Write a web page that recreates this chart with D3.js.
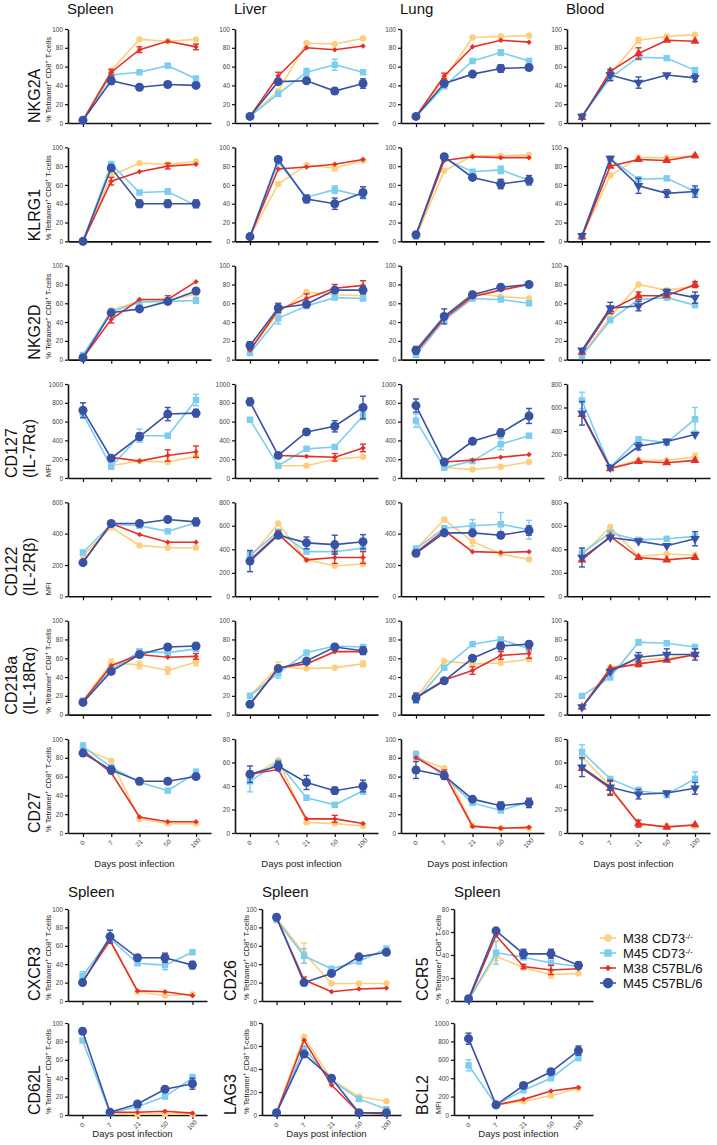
<!DOCTYPE html>
<html>
<head>
<meta charset="utf-8">
<script src="https://cdnjs.cloudflare.com/ajax/libs/d3/7.8.5/d3.min.js"></script>
<style>
  body { margin: 0; background: #fff; }
  svg { display: block; font-family: "Liberation Sans", Arial, Helvetica, sans-serif; }
  .axis path, .axis line { stroke: #111; }
  .axis path { stroke-width: 1.6; }
  .axis line { stroke-width: 1.2; }
  .axis text { fill: #444; font-size: 6.5px; font-family: "Liberation Sans", Arial, sans-serif; }
</style>
</head>
<body>
<div id="chart"></div>
<script>
const days = ["0", "7", "21", "50", "100"]
const groups = ["M38 CD73", "M45 CD73", "M38 C57BL/6", "M45 C57BL/6"]
const groupSup = ["-/-", "-/-", "", ""]
const colors = ["#fdcf7d", "#7ccdf0", "#e3312a", "#3953a4"]
const tissues = ["Spleen", "Liver", "Lung", "Blood"]

// rows: [spleen, liver, lung, blood]; each panel: [M38 CD73, M45 CD73, M38 B6, M45 B6]
// error lists: [panel, series, dayIndex, sem]
const NKG2A = [
  [[3, 56, 89, 87, 89], [3, 51, 54, 61, 47], [3, 54, 78, 87, 81], [3, 45, 38, 41, 40]],
  [[7, 34, 85, 84, 90], [7, 31, 54, 62, 54], [7, 50, 80, 78, 82], [7, 44, 45, 34, 42]],
  [[7, 47, 91, 92, 93], [7, 39, 66, 75, 66], [7, 50, 81, 88, 86], [7, 42, 52, 58, 59]],
  [[7, 52, 88, 92, 94], [7, 48, 70, 69, 56], [6, 55, 74, 88, 87], [7, 51, 43, 51, 48]]
]
const NKG2A_err = [[0,2,2,3],[0,2,4,3],[0,3,1,4],[0,3,3,3],[0,1,4,3],[0,2,1,3],[1,1,2,4],[1,1,3,6],[1,3,3,3],[1,3,4,5],[1,2,1,4],
  [2,2,1,3],[2,1,3,3],[2,3,3,4],[3,3,1,6],[3,3,2,6],[3,3,4,4],[3,2,2,6],[3,0,2,3],[3,1,4,3]]

const KLRG1 = [
  [[0, 70, 83, 82, 85], [0, 82, 52, 53, 38], [0, 64, 74, 80, 82], [0, 78, 40, 40, 40]],
  [[5, 61, 81, 78, 86], [5, 84, 47, 55, 48], [5, 77, 79, 82, 87], [5, 87, 45, 40, 52]],
  [[5, 75, 91, 91, 92], [5, 88, 74, 76, 65], [7, 86, 90, 89, 89], [7, 90, 68, 61, 65]],
  [[5, 70, 89, 89, 91], [5, 88, 66, 67, 53], [5, 80, 87, 86, 91], [6, 88, 59, 51, 53]]
]
const KLRG1_err = [[0,2,1,4],[0,3,2,4],[0,3,3,4],[0,3,4,4],[0,2,3,3],[0,1,1,3],[0,1,3,3],[1,3,2,4],[1,3,3,6],[1,1,3,4],[1,3,4,6],[1,0,3,3],
  [2,1,3,4],[2,3,3,5],[2,3,4,5],[3,3,2,8],[3,3,3,4],[3,3,4,6],[3,1,4,4]]

const NKG2D = [
  [[3, 53, 62, 63, 70], [5, 51, 61, 62, 63], [2, 43, 64, 64, 83], [2, 50, 54, 62, 73]],
  [[10, 50, 72, 69, 68], [7, 44, 57, 66, 65], [10, 53, 65, 76, 79], [15, 55, 59, 74, 74]],
  [[8, 45, 71, 67, 65], [5, 42, 65, 64, 60], [8, 44, 67, 74, 80], [10, 46, 69, 77, 80]],
  [[5, 45, 80, 74, 78], [4, 42, 64, 66, 58], [8, 53, 68, 68, 80], [10, 55, 57, 72, 66]]
]
const NKG2D_err = [[0,2,1,4],[0,2,3,4],[0,1,4,3],[1,3,0,4],[1,3,1,5],[1,1,1,6],[1,2,2,5],[1,2,3,4],[1,2,4,5],[1,3,4,4],
  [2,3,1,8],[2,3,0,4],[3,3,1,6],[3,3,2,5],[3,2,2,4],[3,3,4,6],[3,2,4,3],[3,3,3,3]]

const CD127 = [
  [[null, 130, 180, 170, 230], [680, 120, 450, 450, 830], [null, 220, 180, 240, 280], [720, 210, 440, 680, 690]],
  [[null, 130, 130, 200, 225], [620, 130, 310, 330, 660], [null, 240, 230, 220, 320], [810, 240, 490, 550, 750]],
  [[null, 110, 90, 120, 170], [610, 110, 180, 360, 450], [null, 170, 190, 220, 250], [770, 170, 390, 480, 660]],
  [[null, 90, 150, 150, 180], [660, 90, 330, 300, 500], [540, 80, 140, 130, 150], [550, 90, 270, 310, 370]]
]
const CD127_err = [[0,3,0,80],[0,3,3,70],[0,1,2,70],[0,1,4,60],[0,2,3,60],[0,2,4,60],[0,3,4,40],[0,3,2,40],
  [1,3,0,40],[1,3,3,60],[1,3,4,120],[1,1,4,40],[1,2,3,40],[1,2,4,40],[1,3,2,30],
  [2,3,0,70],[2,1,0,70],[2,1,3,60],[2,3,4,80],[2,3,3,40],[2,3,2,30],
  [3,1,0,70],[3,3,0,100],[3,1,4,100],[3,3,2,30],[3,3,3,20],[3,0,4,30]]

const CD122 = [
  [[260, 440, 325, 310, 310], [280, 460, 450, 415, 470], [220, 465, 395, 345, 345], [215, 465, 465, 490, 475]],
  [[330, 620, 310, 260, 275], [350, 550, 380, 380, 410], [310, 530, 310, 330, 330], [300, 520, 455, 440, 465]],
  [[300, 490, 350, 270, 235], [305, 435, 450, 460, 425], [280, 420, 285, 280, 285], [275, 405, 405, 390, 420]],
  [[350, 590, 340, 360, 350], [370, 540, 480, 490, 510], [310, 510, 330, 310, 330], [330, 500, 470, 430, 490]]
]
const CD122_err = [[0,3,4,25],[1,3,0,90],[1,3,2,50],[1,3,3,80],[1,3,4,60],[1,2,3,50],[1,2,4,50],[1,1,0,30],[1,2,1,30],
  [2,1,2,40],[2,1,3,75],[2,1,4,60],[2,0,2,30],[2,3,4,30],[2,3,3,20],[2,3,0,20],[3,3,0,80],[3,1,0,40],[3,3,4,60]]

const CD218a = [
  [[15, 55, 53, 47, 56], [15, 48, 67, 66, 70], [14, 52, 64, 61, 62], [13, 46, 64, 72, 73]],
  [[20, 51, 49, 50, 54], [20, 44, 66, 73, 72], [11, 50, 54, 67, 67], [11, 49, 57, 72, 68]],
  [[18, 57, 54, 55, 59], [15, 50, 75, 80, 70], [18, 37, 47, 63, 65], [18, 36, 60, 73, 75]],
  [[8, 50, 58, 60, 63], [20, 40, 77, 76, 72], [8, 49, 54, 58, 64], [8, 46, 61, 64, 64]]
]
const CD218a_err = [[0,0,1,4],[0,0,2,4],[0,0,3,4],[0,0,4,4],[0,2,4,3],[0,3,4,3],[0,1,2,3],[1,1,1,5],[1,0,1,5],[1,3,2,3],[1,3,4,4],[1,0,4,3],
  [2,3,0,5],[2,2,2,4],[2,2,3,4],[2,2,4,5],[2,3,3,4],[2,3,4,3],[3,3,2,5],[3,3,3,6],[3,3,4,6],[3,2,2,3],[3,1,2,3],[3,1,1,3]]

const CD27 = [
  [[90, 77, 15, 10, 10], [92, 70, 54, 45, 64], [88, 64, 17, 12, 12], [85, 67, 55, 55, 60]],
  [[47, 62, 9, 8, 6], [44, 60, 30, 24, 36], [50, 54, 12, 12, 8], [50, 57, 43, 36, 40]],
  [[80, 69, 8, 5, 5], [83, 60, 32, 24, 33], [80, 63, 7, 5, 6], [67, 61, 36, 29, 32]],
  [[65, 40, 7, 6, 6], [69, 46, 36, 33, 46], [55, 38, 8, 5, 7], [56, 39, 33, 34, 38]]
]
const CD27_err = [[0,1,0,4],[0,3,1,4],[0,1,4,4],[1,1,0,9],[1,3,0,7],[1,3,1,4],[1,3,2,6],[1,3,3,3],[1,2,3,3],[1,3,4,5],[1,1,4,3],
  [2,3,0,9],[2,1,0,4],[2,3,1,4],[2,3,3,4],[2,3,4,5],[2,2,1,4],
  [3,1,0,6],[3,3,0,8],[3,3,1,6],[3,2,1,6],[3,3,2,4],[3,1,2,3],[3,3,4,5],[3,1,4,6],[3,2,2,3],[3,1,3,3]]

// spleen-only panels; error lists: [series, dayIndex, sem]
const CXCR3 = [[22, 65, 10, 6, 7], [27, 68, 41, 39, 53], [21, 66, 11, 10, 6], [20, 70, 47, 47, 39]]
const CXCR3_err = [[1,0,5],[3,1,7],[3,2,3],[3,3,5],[1,3,5],[3,4,4],[2,1,3]]
const CD26 = [[90, 52, 19, 19, 19], [88, 49, 35, 43, 57], [90, 23, 10, 13, 14], [91, 20, 30, 48, 53]]
const CD26_err = [[0,1,11],[1,1,8],[2,1,3],[3,1,3],[1,3,3]]
const CCR5 = [[1, 39, 29, 23, 24], [1, 42, 38, 33, 30], [1, 57, 30, 27, 28], [2, 61, 41, 41, 31]]
const CCR5_err = [[1,1,10],[3,2,4],[3,3,4],[2,3,4],[0,3,3],[3,4,3],[2,2,2],[0,1,4]]
const CD62L = [[null, 2, 1, 1, 1], [81, 2, 9, 20, 40], [null, 3, 3, 4, 2], [91, 3, 12, 28, 34]]
const CD62L_err = [[3,4,6],[1,4,4]]
const LAG3 = [[2, 68, 31, 16, 12], [2, 58, 30, 14, 5], [2, 65, 26, 2, 1], [2, 53, 32, 2, 2]]
const LAG3_err = []
const BCL2 = [[null, 110, 150, 210, 290], [540, 110, 270, 400, 630], [null, 110, 170, 260, 300], [830, 110, 320, 470, 700]]
const BCL2_err = [[1,0,60],[3,0,60],[3,4,50],[1,4,40],[3,2,30]]

const PCT = "pct", MFI = "MFI"
const rows = [
  { lines: ["NKG2A"], sub: PCT, vals: NKG2A, errs: NKG2A_err, max: [100, 100, 100, 100] },
  { lines: ["KLRG1"], sub: PCT, vals: KLRG1, errs: KLRG1_err, max: [100, 100, 100, 100] },
  { lines: ["NKG2D"], sub: PCT, vals: NKG2D, errs: NKG2D_err, max: [100, 100, 100, 100] },
  { lines: ["CD127", "(IL-7Rα)"], sub: MFI, vals: CD127, errs: CD127_err, max: [1000, 1000, 1000, 800] },
  { lines: ["CD122", "(IL-2Rβ)"], sub: MFI, vals: CD122, errs: CD122_err, max: [600, 800, 600, 800] },
  { lines: ["CD218a", "(IL-18Rα)"], sub: PCT, vals: CD218a, errs: CD218a_err, max: [100, 100, 100, 100] },
  { lines: ["CD27"], sub: PCT, vals: CD27, errs: CD27_err, max: [100, 80, 100, 80] }
]
const bottom = [
  { label: "CXCR3", sub: PCT, vals: CXCR3, errs: CXCR3_err, max: 100 },
  { label: "CD26", sub: PCT, vals: CD26, errs: CD26_err, max: 100 },
  { label: "CCR5", sub: PCT, vals: CCR5, errs: CCR5_err, max: 80 },
  { label: "CD62L", sub: PCT, vals: CD62L, errs: CD62L_err, max: 100 },
  { label: "LAG3", sub: PCT, vals: LAG3, errs: LAG3_err, max: 80 },
  { label: "BCL2", sub: MFI, vals: BCL2, errs: BCL2_err, max: 1000 }
]

// layout
const colX = [68, 235, 401, 567]
const rowTop = d3.range(rows.length).map(i => 29 + i * 118.33)
const plotW = 143, plotH = 94
const botX = [68, 262, 454]
const botTop = [909, 1023]
const botW = 139, botH = 92

const svg = d3.select('#chart').append('svg')
  .attr('width', 717)
  .attr('height', 1145)

const shapes = [d3.symbolCircle, d3.symbolSquare, d3.symbolSquare, d3.symbolCircle]
const sizes = [32, 42, 15, 64]

function markerPath(s, blood) {
  if (blood && s == 2) return d3.symbol(d3.symbolTriangle, 34)()
  if (blood && s == 3) return d3.symbol(d3.symbolTriangle, 40)()
  return d3.symbol(shapes[s], sizes[s])()
}
function markerRot(s, blood) {
  if (blood && s == 3) return ' rotate(180)'
  if (!blood && s == 2) return ' rotate(45)'
  return ''
}

function subText(t, sub, x, y, size) {
  let txt = t.append('text')
    .attr('transform', `translate(${x},${y}) rotate(-90)`)
    .attr('font-size', size)
    .attr('fill', '#222')
  if (sub == MFI) { txt.text('MFI'); return }
  txt.append('tspan').text('% Tetramer')
  txt.append('tspan').attr('baseline-shift', 'super').attr('font-size', size * 0.7).text('+')
  txt.append('tspan').text(' CD8')
  txt.append('tspan').attr('baseline-shift', 'super').attr('font-size', size * 0.7).text('+')
  txt.append('tspan').text(' T-cells')
}

function drawPanel(x0, y0, w, h, vals, errs, yMax, opt) {
  let g = svg.append('g').attr('transform', `translate(${x0},${y0})`)
  let x = d3.scalePoint().domain(days).range([0, w]).padding(0.53)
  let y = d3.scaleLinear().domain([0, yMax]).range([h, 0])
  let step = yMax <= 100 ? 20 : 200

  g.append('g')
    .attr('class', 'axis')
    .call(d3.axisLeft(y).tickValues(d3.range(0, yMax + 1, step)).tickFormat(d3.format('d'))
      .tickSize(3).tickSizeOuter(0).tickPadding(2))

  let xa = g.append('g')
    .attr('class', 'axis')
    .attr('transform', `translate(0,${h})`)
    .call(d3.axisBottom(x).tickSize(4).tickSizeOuter(0).tickFormat(opt.labels ? d => d : ''))
  if (opt.labels) {
    xa.selectAll('.tick text')
      .attr('y', 0).attr('dy', '0.35em')
      .attr('text-anchor', 'middle')
      .attr('transform', 'translate(-1,10) rotate(-45)')
    g.append('text')
      .attr('x', (x(days[0]) + x(days[days.length - 1])) / 2 - 5)
      .attr('y', h + opt.titleGap)
      .attr('text-anchor', 'middle')
      .attr('font-size', 9.5)
      .attr('fill', '#222')
      .text('Days post infection')
  }

  let line = d3.line()
    .defined(d => d != null)
    .x((d, i) => x(days[i]))
    .y(d => y(d))

  vals.forEach((ser, s) => {
    let sg = g.append('g')
    sg.append('path')
      .attr('d', line(ser))
      .attr('fill', 'none')
      .attr('stroke', colors[s])
      .attr('stroke-width', 1.6)

    errs.filter(e => e[0] == s).forEach(e => {
      let v = ser[e[1]], cx = x(days[e[1]])
      let eb = sg.append('g').attr('stroke', colors[s]).attr('stroke-width', 1.4)
      eb.append('line').attr('x1', cx).attr('x2', cx).attr('y1', y(v - e[2])).attr('y2', y(v + e[2]))
      eb.append('line').attr('x1', cx - 3).attr('x2', cx + 3).attr('y1', y(v - e[2])).attr('y2', y(v - e[2]))
      eb.append('line').attr('x1', cx - 3).attr('x2', cx + 3).attr('y1', y(v + e[2])).attr('y2', y(v + e[2]))
    })

    sg.selectAll('path.pt')
      .data(ser.map((v, i) => [v, i]).filter(d => d[0] != null))
      .enter().append('path')
        .attr('class', 'pt')
        .attr('d', markerPath(s, opt.blood))
        .attr('transform', d => `translate(${x(days[d[1]])},${y(d[0])})` + markerRot(s, opt.blood))
        .attr('fill', colors[s])
  })
}

// column headers
tissues.forEach((t, c) => {
  svg.append('text')
    .attr('x', colX[c] - 1)
    .attr('y', 14)
    .attr('font-size', 15)
    .attr('fill', '#111')
    .text(t)
})

// main grid
rows.forEach((row, r) => {
  let top = rowTop[r]
  row.vals.forEach((panel, c) => {
    let errs = row.errs.filter(e => e[0] == c).map(e => e.slice(1))
    drawPanel(colX[c], top, plotW, plotH, panel, errs, row.max[c],
      { labels: r == rows.length - 1, blood: c == 3, titleGap: 34 })
  })
  // row label
  if (row.lines.length == 1) {
    svg.append('text')
      .attr('transform', `translate(${colX[0] - 28},${top + plotH}) rotate(-90)`)
      .attr('font-size', 16)
      .attr('fill', '#111')
      .text(row.lines[0])
  } else {
    row.lines.forEach((l, k) => {
      svg.append('text')
        .attr('transform', `translate(${colX[0] - 51 + k * 18},${top + plotH}) rotate(-90)`)
        .attr('font-size', 16)
        .attr('fill', '#111')
        .text(l)
    })
  }
  subText(svg, row.sub, colX[0] - 17, top + plotH - 1, 7.5)
})

// spleen-only panels
botX.forEach(bx => {
  svg.append('text')
    .attr('x', bx)
    .attr('y', 897)
    .attr('font-size', 15)
    .attr('fill', '#111')
    .text('Spleen')
})
bottom.forEach((p, k) => {
  let c = k % 3, r = Math.floor(k / 3)
  let bx = botX[c], top = botTop[r]
  drawPanel(bx, top, botW, botH, p.vals, p.errs, p.max, { labels: r == 1, blood: false, titleGap: 22 })
  svg.append('text')
    .attr('transform', `translate(${bx - (c == 0 ? 28 : 26)},${top + botH}) rotate(-90)`)
    .attr('font-size', 16)
    .attr('fill', '#111')
    .text(p.label)
  subText(svg, p.sub, bx - (c == 0 ? 17 : 13), top + botH - 1, 7.5)
})

// legend
let leg = svg.append('g').attr('transform', 'translate(600,938)')
groups.forEach((name, s) => {
  let lg = leg.append('g').attr('transform', `translate(0,${s * 15})`)
  lg.append('line').attr('x1', 0).attr('x2', 16).attr('stroke', colors[s]).attr('stroke-width', 1.6)
  lg.append('path')
    .attr('d', d3.symbol(shapes[s], s == 2 ? 22 : sizes[s] * 1.3)())
    .attr('transform', 'translate(8,0)' + markerRot(s, false))
    .attr('fill', colors[s])
  let t = lg.append('text')
    .attr('x', 23).attr('dy', '0.36em')
    .attr('font-size', 13)
    .attr('fill', '#111')
  t.append('tspan').text(name)
  if (groupSup[s]) t.append('tspan').attr('baseline-shift', 'super').attr('font-size', 8).text(groupSup[s])
})
</script>
</body>
</html>
